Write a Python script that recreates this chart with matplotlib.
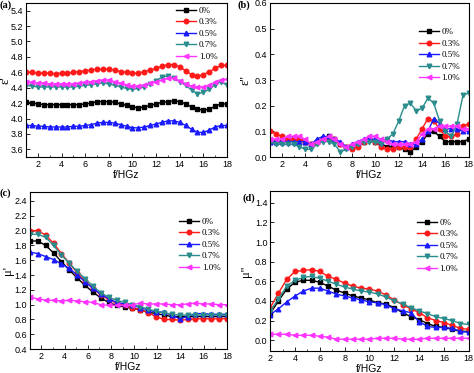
import matplotlib
matplotlib.use("Agg")
import matplotlib.pyplot as plt
from matplotlib.ticker import MultipleLocator

labels = ['0%', '0.3%', '0.5%', '0.7%', '1.0%']
colors = ['black', '#ff1a1a', '#1a1aff', '#2a8c8c', '#ff33ff']
markers = ['s', 'o', '^', 'v', '<']

# frequency grids (GHz)
freq_ab = [1.0, 1.5, 2.0, 2.5, 3.0, 3.5, 4.0, 4.5, 5.0, 5.5, 6.0, 6.5, 7.0, 7.5,
           8.0, 8.5, 9.0, 9.5, 10.0, 10.5, 11.0, 11.5, 12.0, 12.5, 13.0, 13.5,
           14.0, 14.5, 15.0, 15.5, 16.0, 16.5, 17.0, 17.5, 18.0]
freq_c = [1.00, 1.68, 2.36, 3.04, 3.72, 4.40, 5.08, 5.76, 6.44, 7.12, 7.80, 8.48,
          9.16, 9.84, 10.52, 11.20, 11.88, 12.56, 13.24, 13.92, 14.60, 15.28,
          15.96, 16.64, 17.32, 18.00]
freq_d = [2.0, 2.67, 3.33, 4.0, 4.67, 5.33, 6.0, 6.67, 7.33, 8.0, 8.67, 9.33, 10.0,
          10.67, 11.33, 12.0, 12.67, 13.33, 14.0, 14.67, 15.33, 16.0, 16.67, 17.33, 18.0]

# (a) real permittivity
eps1_0 = [4.21, 4.20, 4.19, 4.18, 4.18, 4.18, 4.18, 4.18, 4.18, 4.18, 4.19, 4.20, 4.22, 4.22,
          4.22, 4.21, 4.19, 4.17, 4.15, 4.14, 4.15, 4.17, 4.19, 4.21, 4.22, 4.23, 4.22, 4.19,
          4.15, 4.12, 4.11, 4.12, 4.16, 4.19, 4.19]
eps1_03 = [4.60, 4.60, 4.59, 4.59, 4.59, 4.58, 4.59, 4.59, 4.60, 4.61, 4.62, 4.63, 4.64, 4.64,
           4.64, 4.63, 4.61, 4.60, 4.59, 4.59, 4.61, 4.63, 4.65, 4.68, 4.70, 4.70, 4.67, 4.62,
           4.57, 4.55, 4.57, 4.61, 4.65, 4.69, 4.69]
eps1_05 = [3.91, 3.91, 3.90, 3.90, 3.89, 3.89, 3.89, 3.89, 3.90, 3.90, 3.91, 3.92, 3.94, 3.95,
           3.95, 3.94, 3.92, 3.90, 3.88, 3.88, 3.89, 3.91, 3.93, 3.95, 3.97, 3.97, 3.95, 3.91,
           3.86, 3.82, 3.82, 3.85, 3.89, 3.91, 3.91]
eps1_07 = [4.43, 4.42, 4.41, 4.41, 4.41, 4.41, 4.41, 4.41, 4.41, 4.42, 4.43, 4.44, 4.45, 4.46,
           4.45, 4.43, 4.41, 4.39, 4.38, 4.39, 4.41, 4.45, 4.49, 4.54, 4.55, 4.52, 4.48, 4.43,
           4.37, 4.32, 4.34, 4.38, 4.44, 4.48, 4.43]
eps1_10 = [4.48, 4.47, 4.46, 4.46, 4.45, 4.45, 4.45, 4.45, 4.45, 4.46, 4.47, 4.48, 4.49, 4.50,
           4.50, 4.48, 4.46, 4.44, 4.42, 4.42, 4.43, 4.46, 4.48, 4.50, 4.52, 4.52, 4.49, 4.45,
           4.42, 4.41, 4.41, 4.43, 4.47, 4.50, 4.51]

# (b) imaginary permittivity
eps2_0 = [0.06, 0.06, 0.06, 0.07, 0.07, 0.07, 0.06, 0.05, 0.06, 0.07, 0.08, 0.07, 0.05, 0.04,
          0.04, 0.05, 0.06, 0.07, 0.06, 0.05, 0.04, 0.04, 0.04, 0.03, 0.02, 0.04, 0.06, 0.09,
          0.10, 0.08, 0.06, 0.06, 0.06, 0.06, 0.07]
eps2_03 = [0.10, 0.09, 0.08, 0.07, 0.07, 0.07, 0.06, 0.05, 0.06, 0.07, 0.07, 0.07, 0.05, 0.04,
           0.03, 0.04, 0.06, 0.07, 0.06, 0.04, 0.03, 0.03, 0.04, 0.04, 0.04, 0.07, 0.11, 0.15,
           0.14, 0.11, 0.08, 0.08, 0.09, 0.12, 0.13]
eps2_05 = [0.06, 0.06, 0.06, 0.06, 0.06, 0.06, 0.06, 0.05, 0.07, 0.08, 0.08, 0.07, 0.06, 0.04,
           0.05, 0.06, 0.07, 0.07, 0.07, 0.06, 0.07, 0.06, 0.06, 0.06, 0.05, 0.05, 0.07, 0.10,
           0.15, 0.13, 0.11, 0.11, 0.11, 0.10, 0.10]
eps2_07 = [0.06, 0.05, 0.05, 0.05, 0.05, 0.04, 0.03, 0.03, 0.05, 0.06, 0.06, 0.05, 0.02, 0.03,
           0.04, 0.05, 0.06, 0.06, 0.06, 0.05, 0.07, 0.09, 0.14, 0.20, 0.21, 0.18, 0.19, 0.23,
           0.21, 0.14, 0.10, 0.08, 0.13, 0.24, 0.25]
eps2_10 = [0.07, 0.07, 0.07, 0.08, 0.08, 0.08, 0.07, 0.05, 0.06, 0.07, 0.08, 0.07, 0.05, 0.04,
           0.05, 0.06, 0.07, 0.08, 0.08, 0.07, 0.06, 0.05, 0.05, 0.05, 0.05, 0.06, 0.09, 0.11,
           0.11, 0.12, 0.12, 0.12, 0.12, 0.11, 0.11]

# (c) real permeability
mu1_0 = [1.86, 1.86, 1.80, 1.70, 1.58, 1.47, 1.36, 1.26, 1.17, 1.09, 1.03, 0.99, 0.97,
         0.95, 0.93, 0.90, 0.88, 0.86, 0.84, 0.84, 0.84, 0.84, 0.84, 0.84, 0.84, 0.84]
mu1_03 = [2.00, 2.00, 1.94, 1.83, 1.69, 1.56, 1.43, 1.32, 1.22, 1.13, 1.07, 1.02, 0.99,
          0.96, 0.93, 0.89, 0.84, 0.80, 0.80, 0.79, 0.80, 0.81, 0.81, 0.81, 0.81, 0.81]
mu1_05 = [1.71, 1.69, 1.65, 1.61, 1.55, 1.49, 1.40, 1.31, 1.22, 1.14, 1.08, 1.03, 1.01,
          0.99, 0.96, 0.93, 0.90, 0.90, 0.86, 0.81, 0.84, 0.88, 0.88, 0.87, 0.87, 0.87]
mu1_07 = [1.95, 1.95, 1.91, 1.80, 1.67, 1.56, 1.45, 1.35, 1.25, 1.16, 1.10, 1.06, 1.03,
          1.00, 0.97, 0.94, 0.91, 0.89, 0.87, 0.86, 0.86, 0.86, 0.86, 0.86, 0.86, 0.86]
mu1_10 = [1.10, 1.08, 1.06, 1.06, 1.05, 1.06, 1.05, 1.04, 1.03, 1.00, 0.99, 0.99, 0.99,
          1.00, 1.02, 1.01, 1.01, 1.01, 1.00, 1.00, 1.01, 1.02, 1.01, 1.01, 1.00, 1.00]

# (d) imaginary permeability
mu2_0 = [0.27, 0.40, 0.52, 0.59, 0.61, 0.61, 0.59, 0.55, 0.51, 0.48, 0.45, 0.43, 0.41,
         0.38, 0.37, 0.33, 0.28, 0.24, 0.21, 0.17, 0.14, 0.13, 0.11, 0.09, 0.09]
mu2_03 = [0.33, 0.48, 0.62, 0.70, 0.71, 0.72, 0.70, 0.65, 0.62, 0.58, 0.55, 0.53, 0.52,
          0.50, 0.46, 0.41, 0.36, 0.32, 0.28, 0.23, 0.20, 0.18, 0.15, 0.12, 0.11]
mu2_05 = [0.26, 0.32, 0.39, 0.45, 0.50, 0.53, 0.53, 0.50, 0.47, 0.45, 0.43, 0.41, 0.39,
          0.38, 0.36, 0.32, 0.30, 0.28, 0.19, 0.14, 0.13, 0.13, 0.12, 0.09, 0.08]
mu2_07 = [0.30, 0.42, 0.55, 0.61, 0.64, 0.65, 0.63, 0.60, 0.57, 0.54, 0.52, 0.50, 0.49,
          0.47, 0.44, 0.40, 0.37, 0.33, 0.30, 0.27, 0.24, 0.22, 0.20, 0.17, 0.16]
mu2_10 = [0.06, 0.06, 0.06, 0.05, 0.05, 0.05, 0.04, 0.03, 0.01, 0.01, 0.01, 0.01, 0.01,
          0.02, 0.02, 0.02, 0.01, 0.01, 0.01, 0.02, 0.02, 0.02, 0.02, 0.02, 0.02]

W, H = 474, 373

# tag, ylabel, x, series, xlim, ylim, ystep, axes rect, legend anchor,
# ylabel x (axes coords), tag position (pixels from top-left)
panels = [
    ('(a)', "ε'", freq_ab, [eps1_0, eps1_03, eps1_05, eps1_07, eps1_10],
     (1, 18), (3.5, 5.5), 0.2, [0.055, 0.579, 0.424, 0.413], (0.73, 1.0),
     -0.1, (0, 0)),
    ('(b)', "ε''", freq_ab, [eps2_0, eps2_03, eps2_05, eps2_07, eps2_10],
     (1, 18), (0.0, 0.6), 0.1, [0.570, 0.579, 0.419, 0.413], (0.73, 0.86),
     -0.125, (238, 0)),
    ('(c)', "μ'", freq_c, [mu1_0, mu1_03, mu1_05, mu1_07, mu1_10],
     (1, 18), (0.4, 2.52), 0.2, [0.063, 0.064, 0.416, 0.421], (0.74, 0.86),
     -0.11, (0, 188)),
    ('(d)', "μ''", freq_d, [mu2_0, mu2_03, mu2_05, mu2_07, mu2_10],
     (2, 18), (-0.11, 1.52), 0.2, [0.570, 0.059, 0.419, 0.429], (0.72, 0.85),
     -0.12, (243, 193)),
]

fig = plt.figure(figsize=(W / 100, H / 100), dpi=100)

for tag, ylab, x, series, xlim, ylim, ystep, rect, legpos, ylx, tagpos in panels:
    ax = fig.add_axes(rect)
    for y, lab, c, m in zip(series, labels, colors, markers):
        ax.plot(x, y, color=c, marker=m, markersize=3.3, linewidth=1.0, label=lab)
    ax.set_xlim(*xlim)
    ax.set_ylim(*ylim)
    ax.xaxis.set_major_locator(MultipleLocator(2))
    ax.xaxis.set_minor_locator(MultipleLocator(1))
    ax.yaxis.set_major_locator(MultipleLocator(ystep))
    ax.tick_params(direction='in', labelsize=6.5, length=3, width=0.6, pad=2)
    ax.tick_params(which='minor', direction='in', length=1.5, width=0.5)
    for lbl in ax.get_xticklabels() + ax.get_yticklabels():
        lbl.set_fontfamily('Liberation Sans')
    for s in ax.spines.values():
        s.set_linewidth(0.8)
    ax.set_xlabel('f/HGz', fontsize=7.5, family='Liberation Sans', labelpad=1)
    ax.set_ylabel(ylab, fontsize=9, family='Liberation Serif', va='center')
    ax.yaxis.set_label_coords(ylx, 0.5)
    ax.legend(loc='upper left', bbox_to_anchor=legpos, frameon=False,
              prop={'family': 'Liberation Serif', 'size': 6.5},
              handlelength=2.2, handletextpad=0.3, labelspacing=0.35,
              borderaxespad=0)
    fig.text(tagpos[0] / W, 1 - tagpos[1] / H, tag, fontsize=7.5,
             fontweight='bold', family='Liberation Serif', ha='left', va='top')

fig.savefig('out.png', dpi=100)
